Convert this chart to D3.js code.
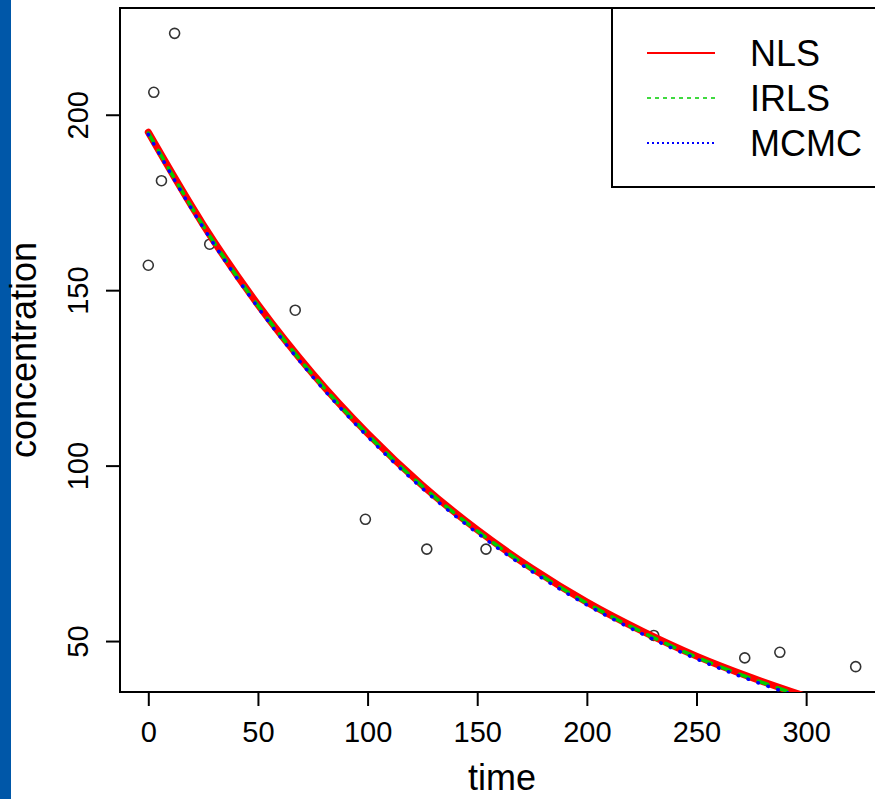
<!DOCTYPE html>
<html>
<head>
<meta charset="utf-8">
<script src="https://cdn.jsdelivr.net/npm/d3@7"></script>
<style>
	body { margin: 0; background: #fff; }
	svg { display: block; font-family: "Liberation Sans", Arial, sans-serif; }
</style>
</head>
<body>
<script>
	// observed points
	const obsTime = [0, 2.5, 12, 6, 28, 67, 99, 127, 154, 230.5, 272, 288, 322.6];
	const obsConc = [157.1, 206.4, 223.2, 181.2, 163.1, 144.3, 84.7, 76.2, 76.2, 51.6, 45.2, 46.8, 42.7];

	// fitted curves
	const fitTime = [0, 25, 50, 75, 100, 125, 150, 175, 200, 225, 250, 275, 300];
	const nlsConc = [195, 168.7, 145.9, 126.2, 109.2, 94.4, 81.7, 70.7, 61.1, 52.9, 45.7, 39.6, 34.2];
	const irlsConc = [194.8, 168.4, 145.6, 125.9, 108.9, 94.1, 81.4, 70.4, 60.8, 52.6, 45.4, 39.3, 33.9];
	const mcmcConc = [194.4, 167.9, 145.1, 125.3, 108.3, 93.5, 80.8, 69.8, 60.3, 52.1, 44.9, 38.8, 33.5];

	const seriesNames = ['NLS', 'IRLS', 'MCMC'];
	const seriesColors = ['#ff0000', '#00cd00', '#0000ff'];

	const xTicks = [0, 50, 100, 150, 200, 250, 300];
	const yTicks = [50, 100, 150, 200];

	const W = 875, H = 799;
	const plot = { left: 120, top: 8, right: 884, bottom: 692 };

	const svg = d3.select('body').append('svg')
		.attr('width', W)
		.attr('height', H);

	svg.append('rect')
		.attr('width', W).attr('height', H)
		.attr('fill', '#fff');

	// blue strip on the left edge
	svg.append('rect')
		.attr('x', 0).attr('y', 0)
		.attr('width', 11).attr('height', H)
		.attr('fill', '#0057a8');

	// R style: data range padded by 4%
	function padded(vals) {
		const [a, b] = d3.extent(vals);
		const p = (b - a) * 0.04;
		return [a - p, b + p];
	}

	const x = d3.scaleLinear()
		.domain(padded(obsTime))
		.range([plot.left, plot.right]);

	const y = d3.scaleLinear()
		.domain(padded(obsConc))
		.range([plot.bottom, plot.top]);

	svg.append('clipPath')
		.attr('id', 'clip')
		.append('rect')
		.attr('x', plot.left).attr('y', plot.top)
		.attr('width', plot.right - plot.left)
		.attr('height', plot.bottom - plot.top);

	const xAxis = d3.axisBottom(x)
		.tickValues(xTicks)
		.tickSize(14)
		.tickPadding(8)
		.tickFormat(d3.format('d'));

	const gx = svg.append('g')
		.attr('transform', `translate(0, ${plot.bottom})`)
		.call(xAxis);
	gx.select('.domain').remove();
	gx.selectAll('line').attr('stroke', '#000').attr('stroke-width', 2);
	gx.selectAll('text')
		.attr('fill', '#000')
		.style('font-size', '29px')
		.attr('dy', '0.95em');

	const yAxis = d3.axisLeft(y)
		.tickValues(yTicks)
		.tickSize(14)
		.tickFormat(d3.format('d'));

	const gy = svg.append('g')
		.attr('transform', `translate(${plot.left}, 0)`)
		.call(yAxis);
	gy.select('.domain').remove();
	gy.selectAll('line').attr('stroke', '#000').attr('stroke-width', 2);
	gy.selectAll('text')
		.attr('fill', '#000')
		.style('font-size', '29px')
		.attr('x', null).attr('dy', null)
		.attr('y', 0)
		.attr('text-anchor', 'middle')
		.attr('transform', 'translate(-32, 0) rotate(-90)');

	// plot frame (left, top, bottom)
	svg.append('path')
		.attr('d', `M${plot.right},${plot.top}H${plot.left}V${plot.bottom}H${plot.right}`)
		.attr('fill', 'none')
		.attr('stroke', '#000')
		.attr('stroke-width', 2);

	svg.append('text')
		.attr('x', (plot.left + plot.right) / 2)
		.attr('y', 790)
		.attr('text-anchor', 'middle')
		.style('font-size', '36px')
		.text('time');

	svg.append('text')
		.attr('transform', `translate(36, ${(plot.top + plot.bottom) / 2}) rotate(-90)`)
		.attr('text-anchor', 'middle')
		.style('font-size', '36px')
		.text('concentration');

	// points
	svg.append('g')
		.selectAll('circle')
		.data(obsTime.map((t, i) => ({ t: t, c: obsConc[i] })))
		.enter().append('circle')
		.attr('cx', d => x(d.t))
		.attr('cy', d => y(d.c))
		.attr('r', 5)
		.attr('fill', 'none')
		.attr('stroke', '#333')
		.attr('stroke-width', 1.6);

	const line = d3.line()
		.x(d => x(d.t))
		.y(d => y(d.c))
		.curve(d3.curveMonotoneX);

	const fits = [nlsConc, irlsConc, mcmcConc];
	const lineStyles = [
		{ width: 7, dash: null },
		{ width: 3.5, dash: '10,10' },
		{ width: 3.5, dash: '0.5,10' }
	];

	const curves = svg.append('g').attr('clip-path', 'url(#clip)');
	fits.forEach((vals, i) => {
		curves.append('path')
			.datum(fitTime.map((t, j) => ({ t: t, c: vals[j] })))
			.attr('d', line)
			.attr('fill', 'none')
			.attr('stroke', seriesColors[i])
			.attr('stroke-width', lineStyles[i].width)
			.attr('stroke-dasharray', lineStyles[i].dash)
			.attr('stroke-linecap', 'round');
	});

	// legend
	const legend = svg.append('g');
	legend.append('rect')
		.attr('x', 612).attr('y', plot.top)
		.attr('width', 300).attr('height', 179)
		.attr('fill', '#fff')
		.attr('stroke', '#000')
		.attr('stroke-width', 2);

	const legendDash = [null, '4,4', '2,3'];
	const legendWidth = [2, 1.5, 2];
	const legendRows = legend.selectAll('.legend-entry')
		.data(seriesNames)
		.enter().append('g')
		.attr('class', 'legend-entry')
		.attr('transform', (d, i) => `translate(0, ${53 + i * 45})`);

	legendRows.append('line')
		.attr('x1', 647).attr('x2', 715)
		.attr('stroke', (d, i) => seriesColors[i])
		.attr('stroke-width', (d, i) => legendWidth[i])
		.attr('stroke-dasharray', (d, i) => legendDash[i]);

	legendRows.append('text')
		.attr('x', 750)
		.attr('y', 13)
		.style('font-size', '36px')
		.text(d => d);
</script>
</body>
</html>
